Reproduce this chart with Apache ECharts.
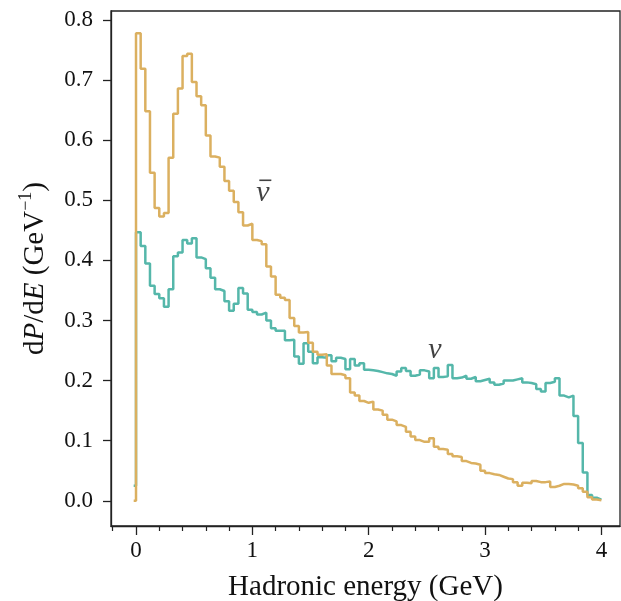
<!DOCTYPE html>
<html>
<head>
<meta charset="utf-8">
<script src="https://cdn.jsdelivr.net/npm/echarts@6/dist/echarts.min.js"></script>
<style>
  html, body { margin: 0; padding: 0; background: #ffffff; }
  #main { width: 621px; height: 601px; }
</style>
</head>
<body>
<div id="main"></div>
<script>
// histogram bins, 0.04 GeV wide, from 0 to 4 GeV
const binWidth = 0.04;
const firstEdge = -0.02;

// neutrino (teal)
const nuUnder = 0.025;
const nuBins = [
  0.447, 0.424, 0.395, 0.358, 0.344, 0.337, 0.323, 0.352, 0.407, 0.413,
  0.434, 0.428, 0.437, 0.405, 0.402, 0.387, 0.371, 0.352, 0.349, 0.332,
  0.316, 0.328, 0.354, 0.345, 0.318, 0.314, 0.310, 0.313, 0.300, 0.287,
  0.283, 0.283, 0.267, 0.268, 0.240, 0.228, 0.262, 0.248, 0.229, 0.239,
  0.238, 0.242, 0.232, 0.238, 0.236, 0.219, 0.236, 0.225, 0.229, 0.218,
  0.217, 0.216, 0.214, 0.212, 0.211, 0.208, 0.215, 0.221, 0.216, 0.208,
  0.210, 0.217, 0.215, 0.204, 0.221, 0.206, 0.207, 0.226, 0.204, 0.205,
  0.208, 0.203, 0.206, 0.199, 0.201, 0.203, 0.197, 0.193, 0.195, 0.200,
  0.200, 0.202, 0.204, 0.197, 0.196, 0.194, 0.186, 0.182, 0.196, 0.198,
  0.204, 0.175, 0.172, 0.175, 0.141, 0.096, 0.047, 0.0095, 0.005, 0.002
];

// antineutrino (orange)
const nubarUnder = 0;
const nubarBins = [
  0.778, 0.719, 0.648, 0.546, 0.487, 0.473, 0.479, 0.571, 0.644, 0.686,
  0.740, 0.744, 0.697, 0.673, 0.658, 0.608, 0.573, 0.571, 0.556, 0.532,
  0.516, 0.497, 0.480, 0.458, 0.461, 0.434, 0.432, 0.427, 0.390, 0.373,
  0.343, 0.338, 0.334, 0.304, 0.291, 0.280, 0.281, 0.263, 0.248, 0.243,
  0.244, 0.225, 0.211, 0.211, 0.209, 0.204, 0.180, 0.175, 0.166, 0.163,
  0.165, 0.152, 0.150, 0.143, 0.135, 0.132, 0.126, 0.123, 0.115, 0.107,
  0.101, 0.098, 0.098, 0.104, 0.090, 0.086, 0.085, 0.078, 0.074, 0.073,
  0.066, 0.063, 0.062, 0.060, 0.050, 0.046, 0.044, 0.043, 0.040, 0.037,
  0.036, 0.031, 0.025, 0.030, 0.029, 0.033, 0.031, 0.031, 0.032, 0.023,
  0.025, 0.028, 0.028, 0.027, 0.025, 0.021, 0.015, 0.006, 0.002, 0.001
];

const xMajor = [0, 1, 2, 3, 4];
const xMinor = [-0.2, 0.2, 0.4, 0.6, 0.8, 1.2, 1.4, 1.6, 1.8, 2.2, 2.4, 2.6, 2.8, 3.2, 3.4, 3.6, 3.8];
const yTicks = [0, 0.1, 0.2, 0.3, 0.4, 0.5, 0.6, 0.7, 0.8];

const labels = [
  { name: 'nubar', value: [1.09, 0.515], text: '{sp| }{bar| }\n{nu|ν}' },
  { name: 'nu', value: [2.57, 0.251], text: '{nu|ν}' }
];

const tealColor = '#55b7aa';
const goldColor = '#dbb060';
const serif = 'Liberation Serif';

function stairs(under, vals) {
  var pts = [[firstEdge, under]];
  for (var i = 0; i < vals.length; i++) {
    pts.push([+(i * binWidth).toFixed(2), vals[i]]);
  }
  pts.push([+(vals.length * binWidth).toFixed(2), vals[vals.length - 1]]);
  return pts;
}

var chart = echarts.init(document.getElementById('main'), null, { renderer: 'canvas' });

var option = {
  backgroundColor: '#ffffff',
  animation: false,
  grid: {
    left: 111, right: 1, top: 11, bottom: 75,
    outerBoundsMode: 'none',
    show: true, borderColor: '#222', borderWidth: 1.3
  },
  xAxis: [{
    type: 'value',
    min: -0.215,
    max: 4.16,
    name: 'Hadronic energy (GeV)',
    nameLocation: 'middle',
    nameGap: 47,
    nameTextStyle: { fontFamily: serif, fontSize: 29, color: '#111' },
    axisLine: { show: true, onZero: false, lineStyle: { color: '#222', width: 1.3 } },
    axisTick: { show: true, length: 9, customValues: xMajor, lineStyle: { color: '#222', width: 1.3 } },
    axisLabel: { customValues: xMajor, margin: 13, fontFamily: serif, fontSize: 23, color: '#111' },
    splitLine: { show: false }
  }, {
    type: 'value',
    min: -0.215,
    max: 4.16,
    position: 'bottom',
    axisLine: { show: false, onZero: false },
    axisTick: { show: true, length: 5, customValues: xMinor, lineStyle: { color: '#222', width: 1.2 } },
    axisLabel: { show: false },
    splitLine: { show: false }
  }],
  yAxis: {
    type: 'value',
    min: -0.042,
    max: 0.815,
    name: 'd{it|P}/d{it|E} (GeV{sup|−1})',
    nameLocation: 'middle',
    nameRotate: 90,
    nameGap: 45,
    nameTextStyle: {
      fontFamily: serif, fontSize: 29, color: '#111', lineHeight: 36,
      rich: {
        it: { fontFamily: serif, fontStyle: 'italic', fontSize: 29, color: '#111', lineHeight: 36 },
        sup: { fontFamily: serif, fontSize: 18, color: '#111', verticalAlign: 'top', lineHeight: 36 }
      }
    },
    axisLine: { show: true, onZero: false, lineStyle: { color: '#222', width: 1.3 } },
    axisTick: { show: true, length: 8, customValues: yTicks, lineStyle: { color: '#222', width: 1.3 } },
    axisLabel: {
      customValues: yTicks, margin: 18, fontFamily: serif, fontSize: 23, color: '#111',
      formatter: function (v) { return v.toFixed(1); }
    },
    splitLine: { show: false }
  },
  series: [{
    name: 'nu',
    type: 'line',
    step: 'end',
    symbol: 'none',
    data: stairs(nuUnder, nuBins),
    lineStyle: { color: tealColor, width: 2.5 },
    z: 2
  }, {
    name: 'nubar',
    type: 'line',
    step: 'end',
    symbol: 'none',
    data: stairs(nubarUnder, nubarBins),
    lineStyle: { color: goldColor, width: 2.5 },
    z: 3
  }, {
    name: 'labels',
    type: 'scatter',
    symbolSize: 0,
    data: labels.map(function (d) { return { name: d.name, value: d.value, text: d.text }; }),
    label: {
      show: true,
      position: 'inside',
      formatter: function (p) { return p.data.text; },
      rich: {
        nu: { fontFamily: serif, fontStyle: 'italic', fontSize: 30, color: '#111', lineHeight: 22 },
        sp: { width: 5, height: 2, fontSize: 2, lineHeight: 4 },
        bar: { width: 12, height: 1.6, fontSize: 2, lineHeight: 4, backgroundColor: '#111' }
      }
    },
    z: 4
  }]
};

chart.setOption(option);
</script>
</body>
</html>
